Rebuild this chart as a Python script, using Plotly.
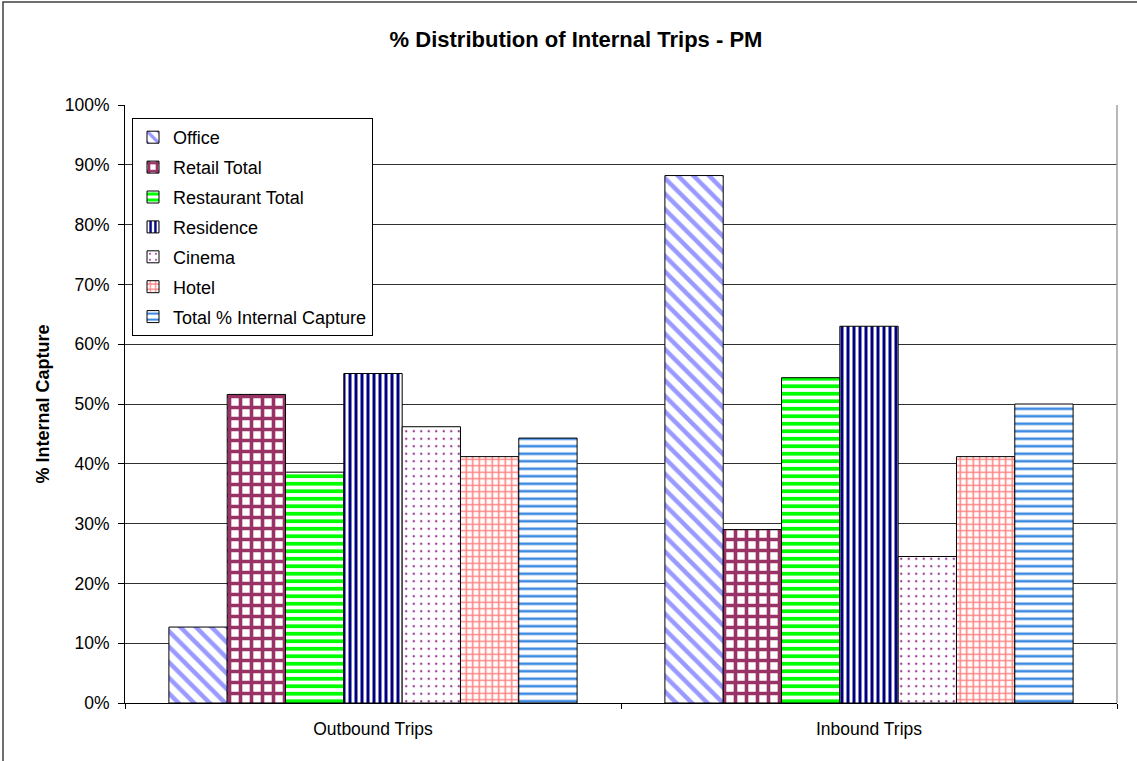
import plotly.graph_objects as go

categories = ["Outbound Trips", "Inbound Trips"]
series_names = ["Office", "Retail Total", "Restaurant Total", "Residence", "Cinema", "Hotel",
                "Total % Internal Capture"]
office = [0.127, 0.882]
retail = [0.516, 0.290]
restaurant = [0.386, 0.544]
residence = [0.551, 0.630]
cinema = [0.462, 0.245]
hotel = [0.412, 0.412]
total = [0.443, 0.500]
y_ticks = [0, 0.1, 0.2, 0.3, 0.4, 0.5, 0.6, 0.7, 0.8, 0.9, 1.0]

series_values = [office, retail, restaurant, residence, cinema, hotel, total]
styles = [
    dict(shape="\\", fg="#9999FF", size=11, sol=0.4),
    dict(shape="+", fg="#993366", size=11, sol=0.55),
    dict(shape="-", fg="#00FF00", size=7.5, sol=0.5),
    dict(shape="|", fg="#000080", size=6, sol=0.5),
    dict(shape=".", fg="#993399", size=7.5, sol=0.08),
    dict(shape="+", fg="#FF8080", size=6.5, sol=0.42),
    dict(shape="-", fg="#3D8AE0", size=7.5, sol=0.35),
]

W, H = 1137, 761
L, R, T, B = 125, 20, 105, 58
pw, ph = W - L - R, H - T - B

fig = go.Figure()
for i, (name, vals, st) in enumerate(zip(series_names, series_values, styles)):
    fig.add_trace(go.Bar(
        name=name, x=categories, y=vals, legendgroup=f"g{i}",
        marker=dict(color="white",
                    line=dict(color="black", width=1),
                    pattern=dict(shape=st["shape"], fgcolor=st["fg"], bgcolor="white",
                                 size=st["size"], solidity=st["sol"],
                                 fillmode="replace", fgopacity=1)),
    ))

def px_x(x):
    return (x - L) / pw

def px_y(y):
    return (H - B - y) / ph

fig.update_layout(
    width=W, height=H,
    margin=dict(l=L, r=R, t=T, b=B),
    paper_bgcolor="white", plot_bgcolor="white",
    font=dict(family="Liberation Sans, Arial, sans-serif", size=17.5, color="black"),
    barmode="group", bargap=0.177, bargroupgap=0,
    title=dict(text="<b>% Distribution of Internal Trips - PM</b>",
               x=576 / W, xanchor="center", xref="container",
               y=1 - 39 / H, yanchor="middle", yref="container",
               font=dict(size=22, color="black")),
    legend=dict(x=px_x(132), y=px_y(118), xanchor="left", yanchor="top",
                bgcolor="white", bordercolor="black", borderwidth=1,
                font=dict(size=18), traceorder="grouped", tracegroupgap=3.5),
    xaxis=dict(showline=True, linecolor="black", linewidth=1,
               ticks="outside", tickson="boundaries", ticklen=5, tickcolor="black",
               ticklabelstandoff=10, showgrid=False),
    yaxis=dict(range=[0, 1], tickvals=y_ticks, tickformat=".0%",
               showline=True, linecolor="black", linewidth=1,
               ticks="outside", ticklen=6, tickcolor="black", ticklabelstandoff=5,
               showgrid=True, gridcolor="#303030", gridwidth=1, zeroline=False,
               title=dict(text="<b>% Internal Capture</b>", font=dict(size=18), standoff=10)),
    shapes=[
        dict(type="line", xref="paper", yref="paper", x0=1, x1=1, y0=0, y1=1,
             line=dict(color="#A0A0A0", width=1.5)),
        dict(type="path", xref="paper", yref="paper",
             path=f"M {px_x(3)} {px_y(790)} L {px_x(3)} {px_y(2)} L {px_x(1160)} {px_y(2)}",
             line=dict(color="#404040", width=1.5)),
    ],
)

fig.write_html("out.html", config={"displayModeBar": False},
               post_script="document.body.style.margin='0';")
